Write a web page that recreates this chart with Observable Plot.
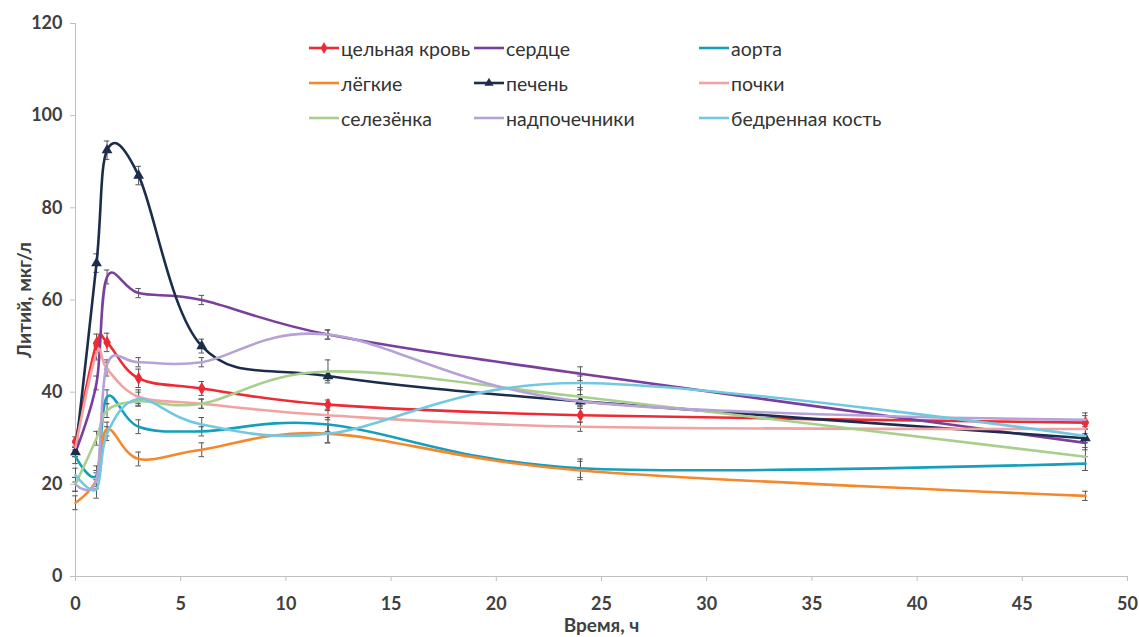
<!DOCTYPE html>
<html>
<head>
<meta charset="utf-8">
<script src="https://cdn.jsdelivr.net/npm/d3@7"></script>
<script src="https://cdn.jsdelivr.net/npm/@observablehq/plot@0.6"></script>
<style>
  html, body { margin: 0; padding: 0; background: #fff; }
  #wrap { position: relative; width: 1139px; height: 637px; font-family: Lato, "Open Sans", sans-serif; }
  #legend { position: absolute; left: 308px; top: 36px; display: grid; grid-template-columns: 165px 225px 220px; row-gap: 11px; font-size: 19.5px; color: #333; }
  .item { display: flex; align-items: center; height: 24px; white-space: nowrap; }
  .item svg { margin-right: 1px; }
  g[aria-label="x-axis label"], g[aria-label="y-axis label"] { font-size: 19px; }
</style>
</head>
<body>
<div id="wrap"><div id="legend"></div></div>
<script>
const times = [0, 1, 1.5, 3, 6, 12, 24, 48];
const seriesNames = ["цельная кровь", "сердце", "аорта", "лёгкие", "печень", "почки", "селезёнка", "надпочечники", "бедренная кость"];
const seriesColors = ["#ee2a35", "#7a3f9d", "#159fba", "#f5882a", "#1b2d4b", "#f2a2a2", "#a8d08d", "#b7a2d8", "#72c8e0"];
const blood     = [29.3, 50.6, 50.8, 43.0, 40.8, 37.3, 35.0, 33.4];
const heart     = [27.0, 42.0, 65.0, 61.5, 60.0, 52.5, 44.0, 29.0];
const aorta     = [26.0, 22.0, 39.0, 32.5, 31.5, 33.0, 23.5, 24.5];
const lungs     = [16.0, 21.0, 32.0, 25.5, 27.5, 31.0, 23.0, 17.5];
const liver     = [27.0, 68.0, 92.5, 87.0, 50.0, 43.5, 38.0, 30.0];
const kidneys   = [28.0, 48.5, 45.0, 39.0, 37.5, 35.0, 32.5, 32.0];
const spleen    = [20.0, 30.0, 36.0, 38.0, 37.5, 44.5, 39.0, 26.0];
const adrenals  = [20.0, 21.0, 46.0, 46.5, 46.5, 52.5, 38.0, 34.0];
const bone      = [22.0, 19.0, 31.0, 38.5, 33.0, 31.0, 42.0, 30.5];
const errBlood    = [1.0, 2.0, 2.0, 2.0, 1.5, 1.0, 1.5, 1.5];
const errHeart    = [1.0, 1.5, 1.5, 1.0, 1.0, 1.0, 1.5, 1.5];
const errAorta    = [1.5, 2.0, 1.5, 1.5, 1.0, 1.5, 2.0, 1.5];
const errLungs    = [1.5, 2.0, 1.5, 1.5, 1.5, 2.0, 2.0, 1.0];
const errLiver    = [1.0, 2.0, 2.0, 2.0, 1.5, 1.0, 1.5, 2.0];
const errKidneys  = [1.0, 1.5, 1.5, 1.5, 1.0, 1.0, 1.0, 1.0];
const errSpleen   = [1.5, 1.5, 1.5, 1.0, 1.0, 2.5, 2.0, 3.0];
const errAdrenals = [1.5, 1.5, 1.0, 1.0, 1.0, 1.0, 1.0, 1.5];
const errBone     = [1.5, 2.0, 1.5, 1.5, 1.5, 2.0, 1.5, 1.5];
const xTicks = [0, 5, 10, 15, 20, 25, 30, 35, 40, 45, 50];
const yTicks = [0, 20, 40, 60, 80, 100, 120];

const valueArrays = [blood, heart, aorta, lungs, liver, kidneys, spleen, adrenals, bone];
const errArrays = [errBlood, errHeart, errAorta, errLungs, errLiver, errKidneys, errSpleen, errAdrenals, errBone];

const rows = [];
seriesNames.forEach((name, i) => {
  times.forEach((t, j) => {
    rows.push({series: name, order: i, t, v: valueArrays[i][j], e: errArrays[i][j]});
  });
});

const colorScale = {domain: seriesNames, range: seriesColors};
const capHalf = 0.13;

const marks = [
  Plot.ruleX([0], {stroke: "#bfbfbf", strokeWidth: 1}),
  Plot.ruleY([0], {stroke: "#bfbfbf", strokeWidth: 1}),
  Plot.axisY({ticks: yTicks, tickSize: 5, tickPadding: 8, label: "Литий, мкг/л", labelAnchor: "center", labelArrow: "none", labelOffset: 58, stroke: "#bfbfbf", fill: "#404040"}),
  Plot.axisX({ticks: xTicks, tickSize: 5, tickPadding: 16, label: "Время, ч", labelAnchor: "center", labelArrow: "none", labelOffset: 55, stroke: "#bfbfbf", fill: "#404040"}),
  // error bars
  Plot.ruleX(rows, {x: "t", y1: d => d.v - d.e, y2: d => d.v + d.e, stroke: "#555", strokeWidth: 1}),
  Plot.ruleY(rows, {y: d => d.v + d.e, x1: d => d.t - capHalf, x2: d => d.t + capHalf, stroke: "#555", strokeWidth: 1}),
  Plot.ruleY(rows, {y: d => d.v - d.e, x1: d => d.t - capHalf, x2: d => d.t + capHalf, stroke: "#555", strokeWidth: 1})
];
seriesNames.forEach((name, i) => {
  const sub = rows.filter(r => r.series === name);
  marks.push(Plot.line(sub, {x: "t", y: "v", stroke: "series", strokeWidth: 2.6, curve: "cardinal"}));
  if (i === 0) marks.push(Plot.dot(sub, {x: "t", y: "v", fill: "series", symbol: "diamond", r: 4}));
  if (i === 4) marks.push(Plot.dot(sub, {x: "t", y: "v", fill: "series", symbol: "triangle", r: 4}));
});

const chart = Plot.plot({
  width: 1139,
  height: 637,
  marginLeft: 75,
  marginRight: 12,
  marginTop: 23,
  marginBottom: 61,
  x: {domain: [0, 50]},
  y: {domain: [0, 120]},
  color: colorScale,
  style: {fontFamily: "Lato, 'Open Sans', sans-serif", fontSize: "18px", fontWeight: "bold", color: "#404040", background: "#fff"},
  marks
});
chart.style.position = "absolute";
chart.style.left = "0";
chart.style.top = "0";
document.getElementById("wrap").prepend(chart);

// legend
const legend = d3.select("#legend");
seriesNames.forEach((name, i) => {
  const item = legend.append("div").attr("class", "item");
  const s = item.append("svg").attr("width", 32).attr("height", 12);
  s.append("line").attr("x1", 1).attr("x2", 31).attr("y1", 6).attr("y2", 6).attr("stroke", seriesColors[i]).attr("stroke-width", 2.6);
  if (i === 0) s.append("path").attr("d", d3.symbol(d3.symbolDiamond, 40)()).attr("transform", "translate(16,6)").attr("fill", seriesColors[i]);
  if (i === 4) s.append("path").attr("d", d3.symbol(d3.symbolTriangle, 36)()).attr("transform", "translate(16,6)").attr("fill", seriesColors[i]);
  item.append("span").text(name);
});
</script>
</body>
</html>
